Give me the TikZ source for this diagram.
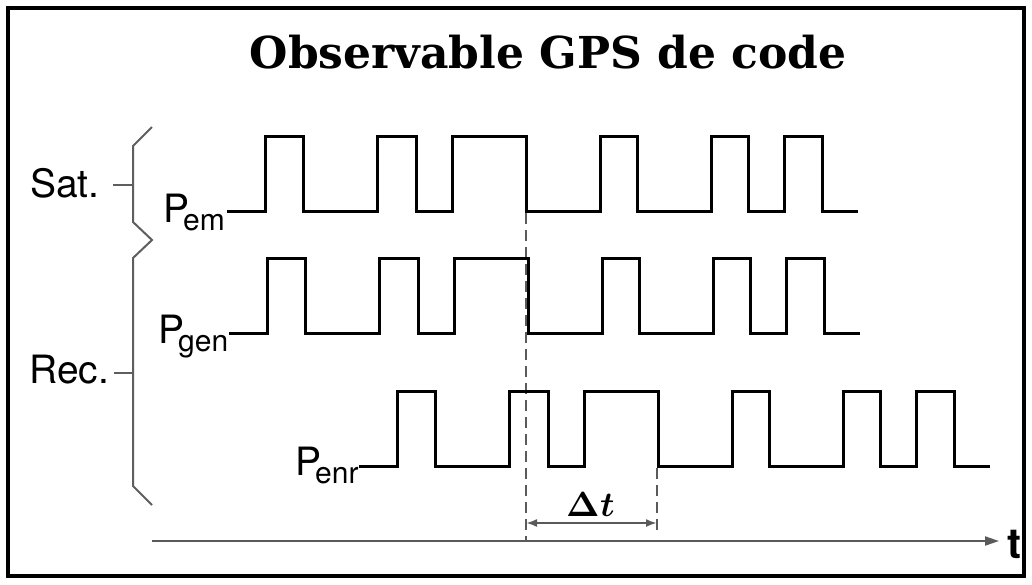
\documentclass[tikz,border=0pt]{standalone}
\usepackage{fontspec}
\usepackage{unicode-math}
\usetikzlibrary{arrows.meta}
\newfontfamily\titlefont{DejaVu Serif}
\newfontfamily\labfont{TeX Gyre Heros}
\definecolor{braceg}{HTML}{5E5E5E}
\definecolor{axisg}{HTML}{5A5A5A}
\newcommand{\Plab}[1]{{\fontsize{39}{39}\selectfont P}\kern-6pt\raisebox{-8pt}{\fontsize{30}{30}\selectfont #1}}
\tikzset{
  wave/.style={line width=3pt, black, line join=miter},
  brace/.style={line width=2pt, braceg},
  guide/.style={line width=2pt, axisg, dash pattern=on 11pt off 6pt},
  axis/.style={line width=2pt, axisg},
  lab/.style={inner sep=0pt, font=\labfont\fontsize{39}{39}\selectfont},
  plab/.style={inner sep=0pt, font=\labfont},
  chipwave/.pic={
    \draw[wave] (0,0) -- (38,0) -- (38,-75) -- (76,-75) -- (76,0) -- (150,0) -- (150,-75)
      -- (189,-75) -- (189,0) -- (225,0) -- (225,-75) -- (299,-75) -- (299,0) -- (373,0)
      -- (373,-75) -- (410,-75) -- (410,0) -- (484,0) -- (484,-75) -- (521,-75) -- (521,0)
      -- (557,0) -- (557,-75) -- (595,-75) -- (595,0) -- (631,0);
  }
}
\begin{document}
\begin{tikzpicture}[x=1pt, y=-1pt]
\useasboundingbox (0,0) rectangle (1032,584);
\fill[white] (0,0) rectangle (1032,584);
\draw[line width=4pt, black] (8,8) rectangle (1024,576);

% title
\node[inner sep=0pt, anchor=base, font=\titlefont\bfseries\fontsize{44}{44}\selectfont] (title) at (548,68) {Observable GPS de code};

% guides (behind waves)
\coordinate (g1top) at (526,213);
\coordinate (g1bot) at (526,541);
\coordinate (g2top) at (657,468);
\coordinate (g2bot) at (657,535);
\draw[guide] (g1top) -- (g1bot);
\draw[guide] (g2top) -- (g2bot);

% waveforms
\pic at (227,211) {chipwave};
\pic at (229,333) {chipwave};
\pic at (359,466) {chipwave};

% labels of waveforms
\node[plab, anchor=base west] (pem) at (163,222) {\Plab{em}};
\node[plab, anchor=base west] (pgen) at (158,343) {\Plab{gen}};
\node[plab, anchor=base west] (penr) at (295,475) {\Plab{enr}};

% braces
\coordinate (b1) at (152,127);
\coordinate (b2) at (133,146);
\coordinate (b3) at (133,222);
\coordinate (bm) at (152,240);
\coordinate (b4) at (133,258);
\coordinate (b5) at (133,486);
\coordinate (b6) at (152,505);
\draw[brace, line join=miter] (b1) -- (b2) -- (b3) -- (bm) -- (b4) -- (b5) -- (b6);
\node[lab, anchor=base west] (sat) at (30,197) {Sat.};
\node[lab, anchor=base west] (rec) at (29,383) {Rec.};
\coordinate (satb) at (133,185);
\coordinate (recb) at (133,373);
\draw[brace] (113,185) -- (satb);
\draw[brace] (114,373) -- (recb);

% time axis
\coordinate (ax0) at (152,541);
\coordinate (ax1) at (999,541);
\draw[axis, -{Triangle[length=14pt,width=9pt]}] (ax0) -- (ax1);
\node[inner sep=0pt, anchor=base west, font=\labfont\bfseries\fontsize{42}{42}\selectfont] (t) at (1007,558) {t};

% delta t
\coordinate (d0) at (526,523);
\coordinate (d1) at (657,523);
\draw[axis, {Latex[length=11pt,width=8pt]}-{Latex[length=11pt,width=8pt]}] (d0) -- (d1);
\node[inner sep=0pt, anchor=base, font=\fontsize{35}{35}\selectfont] (dt) at (591,516) {$\symbf{\Delta}\symbfit{t}$};
\end{tikzpicture}
\end{document}
